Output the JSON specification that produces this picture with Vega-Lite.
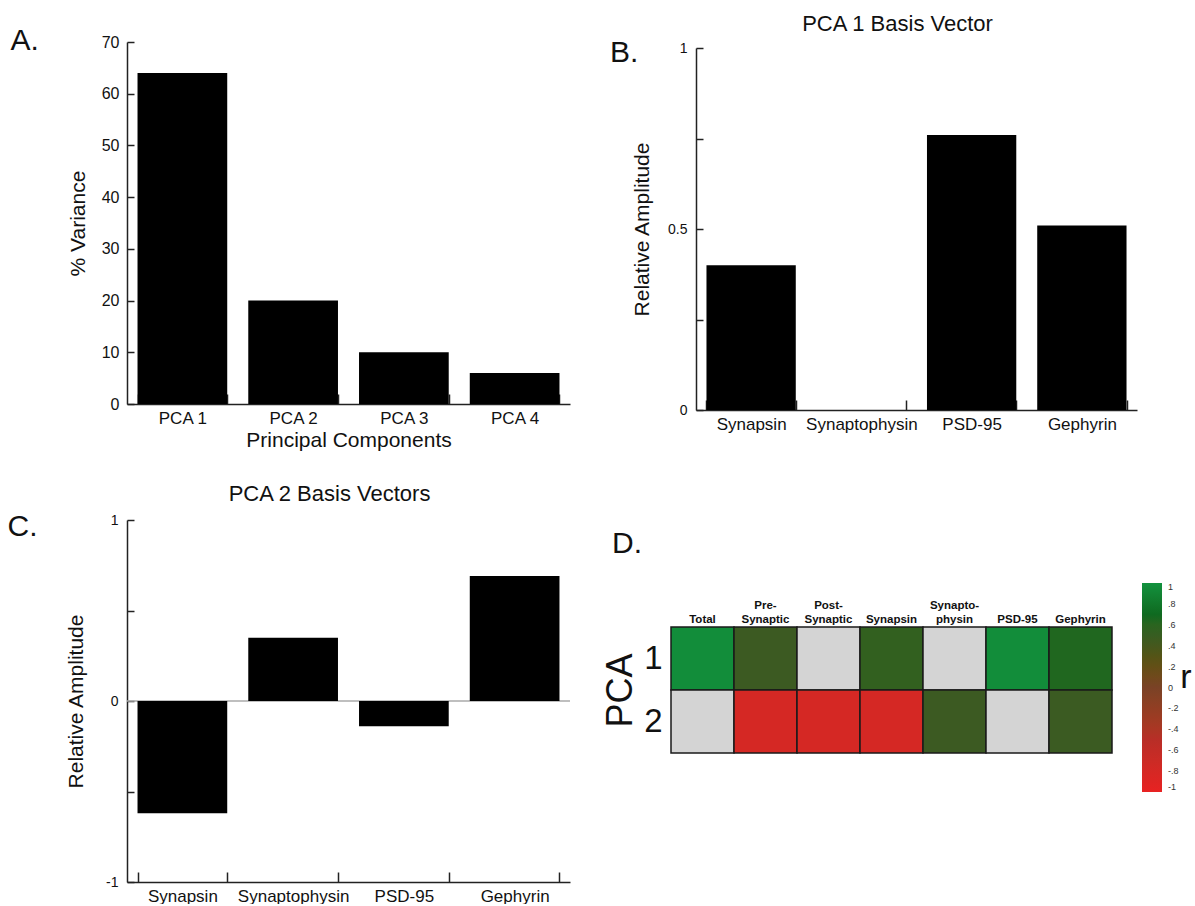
{
  "$schema": "https://vega.github.io/schema/vega-lite/v6.json",
  "background": "white",
  "padding": {"left": 7, "top": 13, "right": 0, "bottom": 0},
  "config": {
    "font": "Liberation Sans",
    "view": {"stroke": null},
    "axis": {
      "labelColor": "#111111",
      "titleColor": "#111111",
      "domainColor": "#222222",
      "tickColor": "#222222",
      "domainWidth": 1.5,
      "tickWidth": 1.5,
      "grid": false,
      "labelFontSize": 17,
      "titleFontSize": 21,
      "titleFontWeight": "normal"
    },
    "title": {"color": "#111111", "fontWeight": "normal"}
  },
  "datasets": {
    "variance": [
      {"component": "PCA 1", "variance": 64},
      {"component": "PCA 2", "variance": 20},
      {"component": "PCA 3", "variance": 10},
      {"component": "PCA 4", "variance": 6}
    ],
    "pca1": [
      {"protein": "Synapsin", "amplitude": 0.4},
      {"protein": "Synaptophysin", "amplitude": 0},
      {"protein": "PSD-95", "amplitude": 0.76},
      {"protein": "Gephyrin", "amplitude": 0.51}
    ],
    "pca2": [
      {"protein": "Synapsin", "amplitude": -0.62},
      {"protein": "Synaptophysin", "amplitude": 0.35},
      {"protein": "PSD-95", "amplitude": -0.14},
      {"protein": "Gephyrin", "amplitude": 0.69}
    ],
    "corr": [
      {"pc": "1", "measure": "Total", "r": 0.96},
      {"pc": "1", "measure": "Pre-Synaptic", "r": 0.45},
      {"pc": "1", "measure": "Post-Synaptic", "r": null},
      {"pc": "1", "measure": "Synapsin", "r": 0.55},
      {"pc": "1", "measure": "Synaptophysin", "r": null},
      {"pc": "1", "measure": "PSD-95", "r": 0.96},
      {"pc": "1", "measure": "Gephyrin", "r": 0.65},
      {"pc": "2", "measure": "Total", "r": null},
      {"pc": "2", "measure": "Pre-Synaptic", "r": -0.8},
      {"pc": "2", "measure": "Post-Synaptic", "r": -0.8},
      {"pc": "2", "measure": "Synapsin", "r": -0.8},
      {"pc": "2", "measure": "Synaptophysin", "r": 0.45},
      {"pc": "2", "measure": "PSD-95", "r": null},
      {"pc": "2", "measure": "Gephyrin", "r": 0.46}
    ],
    "zero": [{"baseline": 0}]
  },
  "spacing": 31,
  "hconcat": [
    {
      "bounds": "flush",
      "spacing": 116,
      "title": {"text": "C.", "orient": "left", "anchor": "end", "frame": "group", "angle": 0, "fontSize": 30, "align": "right", "baseline": "middle", "offset": 0, "dx": 57, "dy": 485},
      "vconcat": [
        {
          "width": 443,
          "height": 362,
          "data": {"name": "variance"},
          "title": {"text": "A.", "orient": "left", "anchor": "end", "frame": "group", "angle": 0, "fontSize": 30, "align": "right", "baseline": "middle", "offset": 0, "dy": -1},
          "mark": {"type": "bar", "color": "black"},
          "encoding": {
            "x": {
              "field": "component", "type": "nominal", "sort": null,
              "scale": {"paddingInner": 0.19, "paddingOuter": 0.095},
              "axis": {"title": "Principal Components", "labelAngle": 0, "tickBand": "extent", "tickSize": -10, "labelPadding": 16, "titlePadding": 3}
            },
            "y": {
              "field": "variance", "type": "quantitative",
              "scale": {"domain": [0, 70]},
              "axis": {"title": "% Variance", "values": [0, 10, 20, 30, 40, 50, 60, 70], "labelFontSize": 16, "tickSize": -7, "labelPadding": 15, "titlePadding": 13}
            }
          }
        },
        {
          "width": 443,
          "height": 362,
          "title": {"text": "PCA 2 Basis Vectors", "anchor": "middle", "frame": "group", "fontSize": 22, "dx": -19, "offset": 7},
          "layer": [
            {
              "data": {"name": "zero"},
              "mark": {"type": "rule", "color": "#aaaaaa", "strokeWidth": 1.5},
              "encoding": {"y": {"field": "baseline", "type": "quantitative"}}
            },
            {
              "data": {"name": "pca2"},
              "mark": {"type": "bar", "color": "black"},
              "encoding": {
                "x": {
                  "field": "protein", "type": "nominal", "sort": null,
                  "scale": {"paddingInner": 0.19, "paddingOuter": 0.095},
                  "axis": {"title": null, "labelAngle": 0, "tickBand": "extent", "tickSize": -10, "labelPadding": 16}
                },
                "y": {
                  "field": "amplitude", "type": "quantitative",
                  "scale": {"domain": [-1, 1]},
                  "axis": {"title": "Relative Amplitude", "values": [-1, -0.5, 0, 0.5, 1], "labelExpr": "datum.value == -1 ? '-1' : abs(datum.value) == 0.5 ? '' : format(datum.value, '~g')", "labelFontSize": 14, "tickSize": -7, "labelPadding": 16, "titlePadding": 19}
                }
              }
            }
          ]
        }
      ]
    },
    {
      "bounds": "flush",
      "spacing": 217,
      "title": {"text": "B.", "orient": "left", "anchor": "end", "frame": "group", "angle": 0, "fontSize": 30, "align": "right", "baseline": "middle", "offset": 0, "dx": 64, "dy": 11},
      "vconcat": [
        {
          "width": 441,
          "height": 368,
          "data": {"name": "pca1"},
          "title": {"text": "PCA 1 Basis Vector", "anchor": "middle", "frame": "group", "fontSize": 22, "dx": -19, "offset": 5},
          "mark": {"type": "bar", "color": "black"},
          "encoding": {
            "x": {
              "field": "protein", "type": "nominal", "sort": null,
              "scale": {"paddingInner": 0.19, "paddingOuter": 0.095},
              "axis": {"title": null, "labelAngle": 0, "tickBand": "extent", "tickSize": -10, "labelPadding": 16}
            },
            "y": {
              "field": "amplitude", "type": "quantitative",
              "scale": {"domain": [0, 1], "range": [368, 6]},
              "axis": {"title": "Relative Amplitude", "values": [0, 0.25, 0.5, 0.75, 1], "labelExpr": "datum.value == 0.25 || datum.value == 0.75 ? '' : format(datum.value, '~g')", "labelFontSize": 14, "tickSize": -7, "labelPadding": 16, "titlePadding": 15}
            }
          }
        },
        {
          "width": 441,
          "height": 126,
          "data": {"name": "corr"},
          "title": {"text": "D.", "orient": "top", "anchor": "start", "frame": "group", "fontSize": 30, "dx": -84, "offset": 40},
          "mark": {"type": "rect", "stroke": "#1a1a1a", "strokeWidth": 1.5, "invalid": "show"},
          "encoding": {
            "x": {
              "field": "measure", "type": "nominal",
              "sort": ["Total", "Pre-Synaptic", "Post-Synaptic", "Synapsin", "Synaptophysin", "PSD-95", "Gephyrin"],
              "scale": {"padding": 0, "range": [-25, 416]},
              "axis": {
                "orient": "top", "title": null, "labelAngle": 0, "ticks": false, "domain": false,
                "labelFontSize": 11.5, "labelFontWeight": "bold", "labelPadding": 17, "labelLineHeight": 14, "labelColor": "#111111",
                "labelExpr": "datum.value == 'Pre-Synaptic' ? ['Pre-', 'Synaptic'] : datum.value == 'Post-Synaptic' ? ['Post-', 'Synaptic'] : datum.value == 'Synaptophysin' ? ['Synapto-', 'physin'] : ['', datum.label]"
              }
            },
            "y": {
              "field": "pc", "type": "nominal",
              "axis": {"title": "PCA", "titleFontSize": 36, "labelFontSize": 33, "labelAngle": 0, "ticks": false, "domain": false, "offset": 25, "labelPadding": 9, "titlePadding": 4}
            },
            "color": {
              "condition": {"test": "datum.r === null", "value": "#d4d4d4"},
              "field": "r", "type": "quantitative",
              "scale": {
                "domain": [-1, -0.5, 0, 0.45, 0.7, 1],
                "range": ["#e82222", "#b82e27", "#7a4226", "#3c5a22", "#0f6a20", "#12923e"]
              },
              "legend": {
                "orient": "none", "legendX": 1015, "legendY": 541,
                "direction": "vertical", "gradientLength": 209, "gradientThickness": 20,
                "gradientStrokeWidth": 0,
                "title": "r", "titleOrient": "right", "titleFontSize": 34, "titleFontWeight": "normal", "titleColor": "#111111",
                "titleAnchor": "middle", "titleBaseline": "alphabetic", "titlePadding": 7,
                "values": [1, 0.8, 0.6, 0.4, 0.2, 0, -0.2, -0.4, -0.6, -0.8, -1],
                "labelFontSize": 9, "labelColor": "#333333", "labelOffset": 6,
                "labelExpr": "datum.value == 0 ? '0' : datum.value == 1 ? '1' : datum.value == -1 ? '-1' : replace(replace(format(datum.value, '.1f'), '0.', '.'), '\u2212', '-')",
                "encode": {"title": {"update": {"angle": {"value": 0}}}}
              }
            }
          }
        }
      ]
    }
  ]
}
